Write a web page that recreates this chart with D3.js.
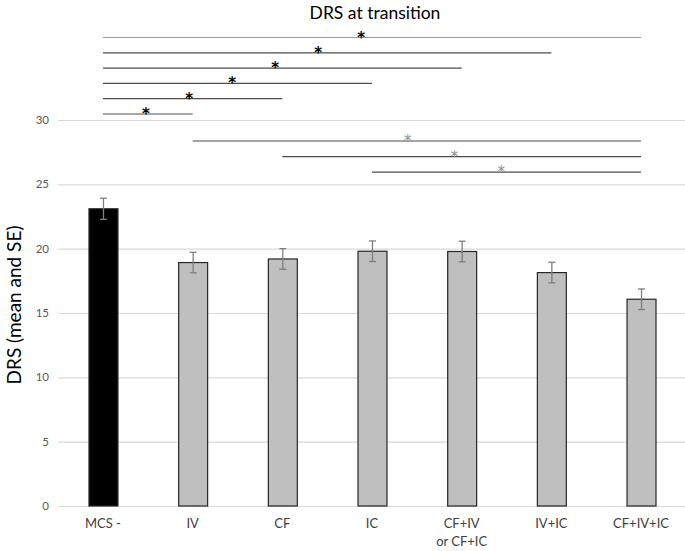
<!DOCTYPE html>
<html>
<head>
<meta charset="utf-8">
<script src="https://cdn.jsdelivr.net/npm/d3@7"></script>
<style>
  body { margin: 0; background: #fff; }
  svg { display: block; font-family: Lato, "Open Sans", sans-serif; }
</style>
</head>
<body>
<svg id="chart" width="685" height="551"></svg>
<script>
const categories = ["MCS -", "IV", "CF", "IC", "CF+IV\nor CF+IC", "IV+IC", "CF+IV+IC"];
const means = [23.1, 18.92, 19.2, 19.8, 19.78, 18.14, 16.07];
const errors = [0.82, 0.8, 0.8, 0.8, 0.8, 0.8, 0.8];
const yTicks = [0, 5, 10, 15, 20, 25, 30];
// significance comparisons: [from, to, group]
const comparisons = [
    ["MCS -", "CF+IV+IC", 0],
    ["MCS -", "IV+IC", 0],
    ["MCS -", "CF+IV\nor CF+IC", 0],
    ["MCS -", "IC", 0],
    ["MCS -", "CF", 0],
    ["MCS -", "IV", 0],
    ["IV", "CF+IV+IC", 1],
    ["CF", "CF+IV+IC", 1],
    ["IC", "CF+IV+IC", 1]
];

const chart = (() => {
    const width = 685, height = 551;
    const margin = { top: 120, right: 0, bottom: 45, left: 58 };
    const svg = d3.select("#chart");

    const x = d3.scaleBand(categories, [margin.left, 686]).paddingInner(0.677).paddingOuter(0.34);
    const y = d3.scaleLinear([0, 30], [506, 120]);

    // gridlines
    svg.append("g")
        .selectAll("line")
        .data(yTicks)
        .join("line")
        .attr("x1", margin.left)
        .attr("x2", width)
        .attr("y1", d => y(d) + 0.5)
        .attr("y2", d => y(d) + 0.5)
        .attr("stroke", "#d9d9d9")
        .attr("stroke-width", 1.2);

    // tick labels
    svg.append("g")
        .attr("font-size", 11.5)
        .attr("fill", "#595959")
        .attr("text-anchor", "end")
        .selectAll("text")
        .data(yTicks)
        .join("text")
        .attr("x", 49)
        .attr("y", d => y(d))
        .attr("dy", "0.35em")
        .text(d => d);

    // bars
    svg.append("g")
        .selectAll("rect")
        .data(categories)
        .join("rect")
        .attr("x", d => x(d) + 0.5)
        .attr("y", (d, i) => y(means[i]))
        .attr("width", x.bandwidth())
        .attr("height", (d, i) => y(0) - y(means[i]))
        .attr("fill", (d, i) => i === 0 ? "#000" : "#bfbfbf")
        .attr("stroke", "#262626")
        .attr("stroke-width", 1.2);

    // error bars
    const err = svg.append("g")
        .attr("stroke", "#7f7f7f")
        .attr("stroke-width", 1.3)
        .selectAll("g")
        .data(categories)
        .join("g")
        .attr("transform", d => `translate(${x(d) + x.bandwidth() / 2 + 0.5},0)`);
    err.append("line")
        .attr("y1", (d, i) => y(means[i] + errors[i]))
        .attr("y2", (d, i) => y(means[i] - errors[i]));
    err.append("line")
        .attr("x1", -3.5).attr("x2", 3.5)
        .attr("y1", (d, i) => y(means[i] + errors[i]))
        .attr("y2", (d, i) => y(means[i] + errors[i]));
    err.append("line")
        .attr("x1", -3.5).attr("x2", 3.5)
        .attr("y1", (d, i) => y(means[i] - errors[i]))
        .attr("y2", (d, i) => y(means[i] - errors[i]));

    // category labels
    svg.append("g")
        .attr("font-size", 13)
        .attr("fill", "#404040")
        .attr("text-anchor", "middle")
        .selectAll("text")
        .data(categories)
        .join("text")
        .attr("x", d => x(d) + x.bandwidth() / 2)
        .attr("y", 528)
        .selectAll("tspan")
        .data(d => d.split("\n"))
        .join("tspan")
        .attr("x", function() { return d3.select(this.parentNode).attr("x"); })
        .attr("dy", (d, i) => i === 0 ? 0 : 17.5)
        .text(d => d);

    // significance lines
    const cx = c => x(c) + x.bandwidth() / 2;
    let level = [0, 0];
    svg.append("g")
        .selectAll("g")
        .data(comparisons)
        .join("g")
        .each(function(d) {
            const g = d3.select(this);
            const row = level[d[2]]++;
            const ly = d[2] === 0 ? 37 + row * 15.3 : 140.5 + row * 15.6;
            g.append("line")
                .attr("x1", cx(d[0]))
                .attr("x2", cx(d[1]))
                .attr("y1", ly + 0.5)
                .attr("y2", ly + 0.5)
                .attr("stroke", d[2] === 0 && row === 0 ? "#9a9a9a" : "#4d4d4d")
                .attr("stroke-width", 1.2);
            g.append("text")
                .attr("x", cx(d[0]) + (cx(d[1]) - cx(d[0])) * 0.48)
                .attr("y", ly + 5.5)
                .attr("text-anchor", "middle")
                .attr("font-family", "'DejaVu Sans', sans-serif")
                .attr("font-size", 15)
                .attr("font-weight", d[2] === 0 ? "bold" : "normal")
                .attr("fill", d[2] === 0 ? "#000" : "#8c8c8c")
                .text("*");
        });

    // title
    svg.append("text")
        .attr("x", 375)
        .attr("y", 19)
        .attr("text-anchor", "middle")
        .attr("font-size", 17.5)
        .attr("fill", "#000")
        .text("DRS at transition");

    // y axis title
    svg.append("text")
        .attr("transform", "translate(21,305) rotate(-90)")
        .attr("text-anchor", "middle")
        .attr("font-size", 19)
        .attr("fill", "#000")
        .text("DRS (mean and SE)");

    return svg.node();
})();
</script>
</body>
</html>
